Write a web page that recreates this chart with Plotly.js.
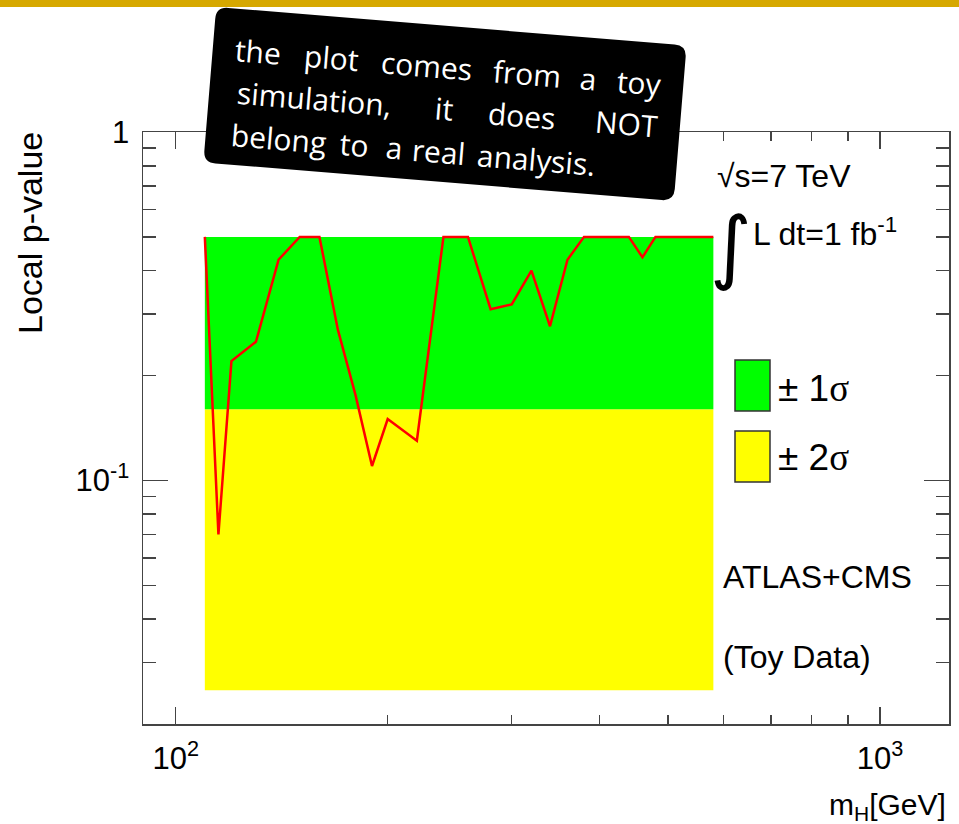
<!DOCTYPE html>
<html>
<head>
<meta charset="utf-8">
<script src="https://cdn.plot.ly/plotly-3.0.1.min.js"></script>
<style>html,body{margin:0;padding:0;background:#fff;}#chart{width:959px;height:824px;}</style>
</head>
<body>
<div id="chart"></div>
<script>
// ---- data ----
const massPoints = [110,115,120,130,140,150,160,170,180,190,200,220,240,260,280,300,320,340,360,380,400,420,440,460,480,500,520,540,560,580];
const localPValue = [0.5,0.07,0.22,0.25,0.43,0.5,0.5,0.27,0.176,0.11,0.15,0.13,0.5,0.5,0.31,0.32,0.40,0.277,0.43,0.5,0.5,0.5,0.5,0.437,0.5,0.5,0.5,0.5,0.5,0.5];
const bandMass = [110, 580];
const band1Sigma = [0.16, 0.5];
const band2Sigma = [0.025, 0.16];
const xTickVals = [100, 1000];
const xTickText = ['10<sup>2</sup>', '10<sup>3</sup>'];
const xMinorVals = [200,300,400,500,600,700,800,900];
const yTickVals = [0.1, 1];
const yTickText = ['10<sup>-1</sup>', '1'];
const yMinorVals = [0.02,0.03,0.04,0.05,0.06,0.07,0.08,0.09,0.2,0.3,0.4,0.5,0.6,0.7,0.8,0.9];
const noteLines = [
  ['the','plot','comes','from','a','toy'],
  ['simulation,','it','does','NOT'],
  ['belong','to','a','real','analysis.']
];

// ---- layout helpers (pixel -> paper) ----
const L = 143, R = 949, T = 132, B = 724;
const W = R - L, H = B - T;
const px = x => (x - L) / W;
const py = y => (B - y) / H;

const FONT = 'Liberation Sans, Arial, Helvetica, sans-serif';

function rect(x0, fill, lo, hi) {
  return {
    x: [x0[0], x0[1], x0[1], x0[0], x0[0]],
    y: [lo[0], lo[0], hi[0], hi[0], lo[0]],
    type: 'scatter', mode: 'lines', fill: 'toself', fillcolor: fill,
    line: {width: 0, color: fill}, hoverinfo: 'skip', showlegend: false
  };
}

const traces = [
  rect(bandMass, '#FFFF00', [band2Sigma[0]], [band2Sigma[1]]),
  rect(bandMass, '#00FF00', [band1Sigma[0]], [band1Sigma[1]]),
  {
    x: massPoints, y: localPValue, type: 'scatter', mode: 'lines',
    line: {color: '#FF0000', width: 2.5}, showlegend: false
  }
];

// rotated black note box
const C = {x: 445, y: 104}, bw = 472, bh = 156, ang = 4.7 * Math.PI / 180, rad = 12;
const cs = Math.cos(ang), sn = Math.sin(ang);
function loc(u, v) { return [C.x + u * cs - v * sn, C.y + u * sn + v * cs]; }
function P(u, v) { const p = loc(u, v); return px(p[0]).toFixed(5) + ',' + py(p[1]).toFixed(5); }
const hw = bw / 2, hh = bh / 2;
const boxPath = 'M' + P(-hw + rad, -hh) + ' L' + P(hw - rad, -hh) + ' Q' + P(hw, -hh) + ' ' + P(hw, -hh + rad) +
  ' L' + P(hw, hh - rad) + ' Q' + P(hw, hh) + ' ' + P(hw - rad, hh) +
  ' L' + P(-hw + rad, hh) + ' Q' + P(-hw, hh) + ' ' + P(-hw, hh - rad) +
  ' L' + P(-hw, -hh + rad) + ' Q' + P(-hw, -hh) + ' ' + P(-hw + rad, -hh) + ' Z';

const shapes = [
  {type: 'rect', xref: 'paper', yref: 'paper', x0: px(0), x1: px(959), y0: py(0), y1: py(7),
   fillcolor: '#D6A800', line: {width: 0}, layer: 'above'},
  {type: 'path', xref: 'paper', yref: 'paper', path: boxPath, fillcolor: '#000000', line: {width: 0}, layer: 'above'},
  {type: 'rect', xref: 'paper', yref: 'paper', x0: px(735), x1: px(770), y0: py(411), y1: py(360),
   fillcolor: '#00FF00', line: {color: '#333333', width: 1.5}, layer: 'above'},
  {type: 'rect', xref: 'paper', yref: 'paper', x0: px(735), x1: px(770), y0: py(482), y1: py(431),
   fillcolor: '#FFFF00', line: {color: '#333333', width: 1.5}, layer: 'above'}
];

function ann(text, x, y, size, opts) {
  return Object.assign({
    text: text, xref: 'paper', yref: 'paper', x: px(x), y: py(y),
    xanchor: 'left', yanchor: 'middle', showarrow: false,
    font: {family: FONT, size: size, color: '#000000'}
  }, opts || {});
}

const annotations = [
  ann('Local p-value', 30, 233, 34, {xanchor: 'center', textangle: -90}),
  ann('m<sub>H</sub>[GeV]', 948, 806, 30, {xanchor: 'right'}),
  ann('\u221As=7 TeV', 715, 176, 32),
  ann('\u222B', 731, 246, 80, {xanchor: 'center', font: {family: 'DejaVu Sans, sans-serif', size: 80, color: '#000'}}),
  ann('L dt=1 fb<sup>-1</sup>', 751, 232, 32),
  ann('\u00B1 1<span style="font-family:Liberation Serif,serif">\u03C3</span>', 776, 388, 37),
  ann('\u00B1 2<span style="font-family:Liberation Serif,serif">\u03C3</span>', 776, 457, 37),
  ann('ATLAS+CMS', 721, 577, 32),
  ann('(Toy Data)', 721, 657, 32)
];

// note words, justified as in the picture
const lineV = [-37, 5, 48];
const wordX = [
  [258, 331, 426, 527, 588, 639],
  [314, 444, 522, 626],
  [279, 354, 394, 438, 536]
];
noteLines.forEach((words, li) => {
  words.forEach((w, wi) => {
    const v = lineV[li];
    const u = (wordX[li][wi] - C.x + v * sn) / cs;
    const p = loc(u, v);
    annotations.push({
      text: w, xref: 'paper', yref: 'paper', x: px(p[0]), y: py(p[1]),
      xanchor: 'center', yanchor: 'middle', showarrow: false, textangle: 4.7,
      font: {family: 'Open Sans, sans-serif', size: 30, color: '#FFFFFF'}
    });
  });
});

const axisCommon = {
  type: 'log', showgrid: false, zeroline: false, showline: true,
  linecolor: '#444444', linewidth: 1.5, mirror: 'ticks', ticks: 'inside',
  tickcolor: '#444444', tickwidth: 1.5, tickmode: 'array',
  tickfont: {family: FONT, size: 31, color: '#000000'}
};

const layout = {
  width: 959, height: 824,
  margin: {l: L, r: 959 - R, t: T, b: 824 - B, pad: 0},
  paper_bgcolor: '#FFFFFF', plot_bgcolor: '#FFFFFF',
  showlegend: false,
  xaxis: Object.assign({}, axisCommon, {
    range: [1.9536, 3.098], tickvals: xTickVals, ticktext: xTickText, ticklen: 17,
    ticklabelstandoff: 6,
    minor: {ticks: 'inside', ticklen: 9, tickvals: xMinorVals, tickcolor: '#444444', tickwidth: 1.5, showgrid: false}
  }),
  yaxis: Object.assign({}, axisCommon, {
    range: [Math.log10(0.02), 0], tickvals: yTickVals, ticktext: yTickText, ticklen: 25,
    ticklabelstandoff: 6,
    minor: {ticks: 'inside', ticklen: 13, tickvals: yMinorVals, tickcolor: '#444444', tickwidth: 1.5, showgrid: false}
  }),
  shapes: shapes,
  annotations: annotations
};

Plotly.newPlot('chart', traces, layout, {displayModeBar: false, staticPlot: true});
</script>
</body>
</html>
